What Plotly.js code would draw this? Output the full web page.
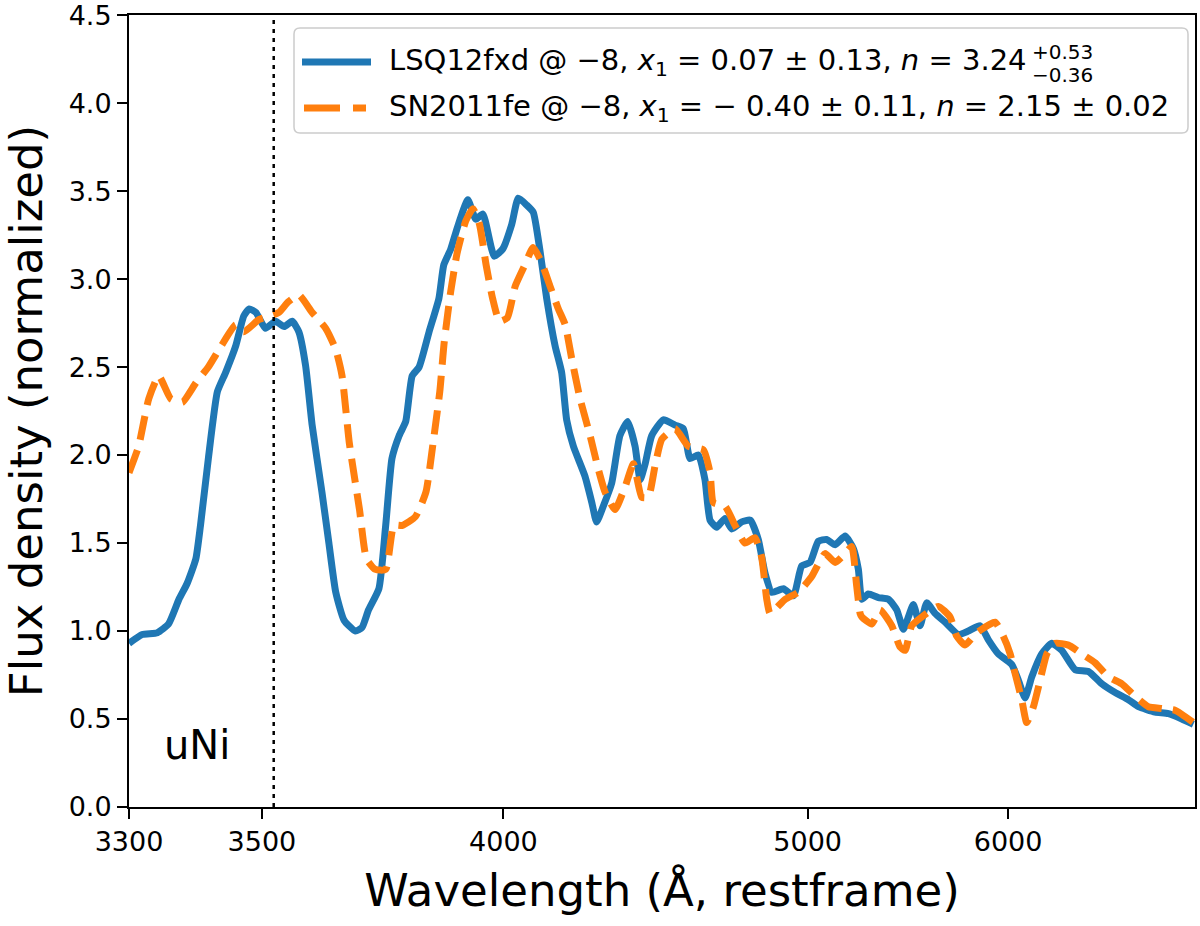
<!DOCTYPE html>
<html>
<head>
<meta charset="utf-8">
<script src="https://cdn.plot.ly/plotly-3.0.1.min.js"></script>
<style>
  html, body { margin: 0; padding: 0; background: #ffffff; }
  #spectra-graph-container { width: 1200px; height: 926px; }
</style>
</head>
<body>
<div id="spectra-graph-container"></div>
<script>
//  ###################### DATA ######################

// the wavelength axis is logarithmic in (wavelength - offset)
const WAVE_OFFSET = 2500;

const tickWaves = [3300, 3500, 4000, 5000, 6000];
const tickLabels = ["3300", "3500", "4000", "5000", "6000"];
const yTickValues = [0.0, 0.5, 1.0, 1.5, 2.0, 2.5, 3.0, 3.5, 4.0, 4.5];

const uNiWave = 3520;

// LSQ12fxd @ -8
const waveLSQ = [3300, 3318, 3339, 3355, 3370, 3382, 3395, 3402, 3414, 3428, 3441, 3457, 3470, 3479, 3490,
    3506, 3523, 3538, 3552, 3564, 3576, 3588, 3606, 3619, 3632, 3648, 3670, 3683, 3696, 3717, 3731, 3744,
    3759, 3773, 3787, 3802, 3824, 3846, 3857, 3873, 3888, 3913, 3932, 3949, 3977, 3998, 4021, 4038, 4060,
    4077, 4095, 4113, 4136, 4154, 4168, 4187, 4220, 4240, 4254, 4274, 4299, 4324, 4348, 4371, 4387, 4403,
    4424, 4462, 4501, 4529, 4552, 4581, 4604, 4622, 4646, 4676, 4701, 4738, 4770, 4801, 4827, 4854, 4900,
    4941, 4975, 5010, 5045, 5081, 5118, 5162, 5199, 5222, 5238, 5268, 5315, 5363, 5403, 5436, 5485, 5519,
    5553, 5596, 5649, 5720, 5774, 5839, 5886, 5943, 6021, 6061, 6101, 6142, 6203, 6266, 6330, 6417, 6505,
    6596, 6689, 6783, 6856, 6979, 7081, 7185, 7277];
const fluxLSQ = [0.93, 0.98, 0.99, 1.04, 1.18, 1.27, 1.41, 1.60, 1.98, 2.36, 2.47, 2.62, 2.79, 2.83, 2.81,
    2.72, 2.76, 2.73, 2.76, 2.70, 2.51, 2.17, 1.79, 1.50, 1.22, 1.06, 1.00, 1.02, 1.12, 1.24, 1.60, 1.98,
    2.11, 2.19, 2.45, 2.50, 2.70, 2.89, 3.08, 3.17, 3.29, 3.45, 3.34, 3.37, 3.13, 3.17, 3.31, 3.46, 3.42,
    3.38, 3.16, 2.89, 2.62, 2.47, 2.20, 2.05, 1.88, 1.73, 1.62, 1.71, 1.84, 2.11, 2.19, 2.05, 1.86, 1.95,
    2.11, 2.20, 2.17, 2.15, 1.98, 2.00, 1.86, 1.63, 1.59, 1.64, 1.58, 1.62, 1.63, 1.52, 1.33, 1.22, 1.24,
    1.20, 1.37, 1.39, 1.51, 1.52, 1.49, 1.54, 1.47, 1.35, 1.18, 1.21, 1.19, 1.18, 1.12, 1.01, 1.15, 1.03,
    1.16, 1.10, 1.05, 0.98, 1.00, 1.03, 0.95, 0.87, 0.81, 0.72, 0.62, 0.74, 0.87, 0.93, 0.89, 0.78, 0.77,
    0.70, 0.65, 0.61, 0.57, 0.54, 0.53, 0.50, 0.47];

// SN2011fe @ -8
const waveFE = [3300, 3313, 3327, 3341, 3358, 3375, 3395, 3414, 3434, 3457, 3470, 3495, 3513, 3529, 3545,
    3564, 3588, 3613, 3632, 3644, 3658, 3678, 3692, 3710, 3731, 3748, 3766, 3794, 3817, 3833, 3848, 3858,
    3873, 3888, 3908, 3925, 3941, 3957, 3973, 3990, 4010, 4030, 4055, 4077, 4100, 4122, 4145, 4164, 4182,
    4206, 4235, 4259, 4279, 4309, 4340, 4366, 4392, 4413, 4435, 4457, 4501, 4546, 4598, 4622, 4634, 4676,
    4713, 4750, 4788, 4814, 4834, 4847, 4907, 4961, 5017, 5074, 5118, 5162, 5192, 5214, 5230, 5238, 5284,
    5323, 5379, 5419, 5444, 5477, 5528, 5613, 5675, 5711, 5756, 5820, 5924, 5972, 6012, 6041, 6081, 6111,
    6152, 6193, 6235, 6287, 6373, 6461, 6550, 6642, 6736, 6831, 6929, 7030, 7132, 7277];
const fluxFE = [1.90, 2.05, 2.32, 2.45, 2.32, 2.30, 2.41, 2.50, 2.62, 2.74, 2.70, 2.77, 2.79, 2.81, 2.87,
    2.91, 2.81, 2.72, 2.60, 2.45, 2.07, 1.69, 1.41, 1.35, 1.35, 1.60, 1.60, 1.65, 1.79, 2.07, 2.36, 2.64,
    2.93, 3.15, 3.33, 3.40, 3.31, 3.08, 2.89, 2.76, 2.78, 2.96, 3.08, 3.18, 3.09, 2.96, 2.83, 2.74, 2.55,
    2.32, 2.11, 1.92, 1.79, 1.69, 1.82, 1.95, 1.76, 1.76, 1.94, 2.09, 2.15, 2.05, 2.03, 1.90, 1.73, 1.71,
    1.60, 1.50, 1.53, 1.42, 1.18, 1.10, 1.18, 1.22, 1.31, 1.44, 1.39, 1.44, 1.48, 1.26, 1.10, 1.08, 1.04,
    1.12, 1.03, 0.91, 0.89, 1.03, 1.08, 1.14, 1.08, 0.97, 0.92, 0.99, 1.05, 0.97, 0.87, 0.76, 0.61, 0.48,
    0.57, 0.72, 0.87, 0.93, 0.92, 0.87, 0.82, 0.74, 0.70, 0.63, 0.57, 0.56, 0.55, 0.48];

const legendLSQ = "LSQ12fxd @ −8, <i>x</i><sub>1</sub> = 0.07 ± 0.13, <i>n</i> = 3.24";
const legendLSQSup = "+0.53";
const legendLSQSub = "−0.36";
const legendFE = "SN2011fe @ −8, <i>x</i><sub>1</sub> = − 0.40 ± 0.11, <i>n</i> = 2.15 ± 0.02";

//  ###################### GRAPH ######################

const BLUE = "#1f77b4";
const ORANGE = "#ff7f0e";
const FONT = "DejaVu Sans, Liberation Sans, sans-serif";

// plot area in pixels (used to place the hand drawn legend)
const PLOT_L = 129, PLOT_R = 1195, PLOT_T = 15, PLOT_B = 807;
const px2x = p => (p - PLOT_L) / (PLOT_R - PLOT_L);
const px2y = p => (PLOT_B - p) / (PLOT_B - PLOT_T);

function shifted(waves){
    return waves.map(w => w - WAVE_OFFSET);
}

function drawSpectraGraph(){

    const spectraPlotData = [
        { x: shifted(waveLSQ), y: fluxLSQ, mode: "lines", name: "LSQ12fxd",
          line: { color: BLUE, width: 7, shape: "spline", smoothing: 0.5 }, showlegend: false },
        { x: shifted(waveFE), y: fluxFE, mode: "lines", name: "SN2011fe",
          line: { color: ORANGE, width: 7, dash: "24px,11px", shape: "spline", smoothing: 0.5 }, showlegend: false },
        { x: shifted([uNiWave, uNiWave]), y: [0, 4.5], mode: "lines", name: "uNi",
          line: { color: "#000000", width: 2.5, dash: "4px,5px" }, showlegend: false },
    ];

    // legend box drawn by hand so that the n error can be stacked like the original
    const r = 6;
    const bx0 = px2x(294), bx1 = px2x(1188), by0 = px2y(133), by1 = px2y(28);
    const rx = r / (PLOT_R - PLOT_L), ry = r / (PLOT_B - PLOT_T);
    const boxPath = `M ${bx0 + rx} ${by1} L ${bx1 - rx} ${by1} Q ${bx1} ${by1} ${bx1} ${by1 - ry} ` +
                    `L ${bx1} ${by0 + ry} Q ${bx1} ${by0} ${bx1 - rx} ${by0} L ${bx0 + rx} ${by0} ` +
                    `Q ${bx0} ${by0} ${bx0} ${by0 + ry} L ${bx0} ${by1 - ry} Q ${bx0} ${by1} ${bx0 + rx} ${by1} Z`;

    const spectraPlotLayout = {
        width: 1200,
        height: 926,
        paper_bgcolor: "#ffffff",
        plot_bgcolor: "#ffffff",
        font: { family: FONT, size: 27, color: "#000000" },
        margin: { t: PLOT_T, b: 926 - PLOT_B, l: PLOT_L, r: 1200 - PLOT_R },
        showlegend: false,
        xaxis: { type: "log",
                 range: [Math.log10(800), Math.log10(4790)],
                 tickmode: "array",
                 tickvals: shifted(tickWaves),
                 ticktext: tickLabels,
                 ticks: "outside", ticklen: 10, tickwidth: 2, tickcolor: "#000000",
                 ticklabeloverflow: "allow",
                 showline: true, linecolor: "#000000", linewidth: 2, mirror: true,
                 showgrid: false, zeroline: false,
                 tickfont: { size: 27 },
                 title: { text: "Wavelength (Å, restframe)", standoff: 18, font: { size: 45 } } },
        yaxis: { range: [0, 4.5005],
                 tickmode: "array",
                 tickvals: yTickValues,
                 ticktext: yTickValues.map(v => v.toFixed(1)),
                 ticks: "outside", ticklen: 10, tickwidth: 2, tickcolor: "#000000",
                 ticklabeloverflow: "allow",
                 showline: true, linecolor: "#000000", linewidth: 2, mirror: true,
                 showgrid: false, zeroline: false,
                 tickfont: { size: 27 },
                 title: { text: "Flux density (normalized)", standoff: 22, font: { size: 45 } } },
        shapes: [
            { type: "path", xref: "paper", yref: "paper", path: boxPath,
              line: { color: "#cccccc", width: 1.5 }, fillcolor: "rgba(255,255,255,0.8)" },
            { type: "line", xref: "paper", yref: "paper",
              x0: px2x(302), x1: px2x(371), y0: px2y(62), y1: px2y(62),
              line: { color: BLUE, width: 7 } },
            { type: "line", xref: "paper", yref: "paper",
              x0: px2x(304), x1: px2x(340), y0: px2y(108), y1: px2y(108),
              line: { color: ORANGE, width: 7 } },
            { type: "line", xref: "paper", yref: "paper",
              x0: px2x(353), x1: px2x(366), y0: px2y(108), y1: px2y(108),
              line: { color: ORANGE, width: 7 } },
        ],
        annotations: [
            { text: legendLSQ, xref: "paper", yref: "paper", x: px2x(387), y: px2y(62),
              xanchor: "left", yanchor: "middle", showarrow: false, font: { size: 29 } },
            { text: legendFE, xref: "paper", yref: "paper", x: px2x(387), y: px2y(108),
              xanchor: "left", yanchor: "middle", showarrow: false, font: { size: 29 } },
            { text: "uNi", xref: "paper", yref: "paper", x: px2x(197), y: px2y(745),
              xanchor: "center", yanchor: "middle", showarrow: false, font: { size: 40 } },
        ]
    };

    const spectraPlotConfig = {
        staticPlot: true,
    };

    return Plotly.newPlot("spectra-graph-container", spectraPlotData, spectraPlotLayout, spectraPlotConfig);
}

// put the asymmetric error of n right after the first legend line
function addLegendErrors(gd){
    let rightPx = 1108;
    const txt = gd.querySelector('.annotation[data-index="0"] text.annotation-text');
    if (txt){
        const box = txt.getBoundingClientRect();
        const root = gd.getBoundingClientRect();
        rightPx = box.right - root.left;
    }
    const extra = [
        { text: legendLSQSup, xref: "paper", yref: "paper", x: px2x(rightPx + 3), y: px2y(52),
          xanchor: "left", yanchor: "middle", showarrow: false, font: { size: 20 } },
        { text: legendLSQSub, xref: "paper", yref: "paper", x: px2x(rightPx + 3), y: px2y(75),
          xanchor: "left", yanchor: "middle", showarrow: false, font: { size: 20 } },
    ];
    return Plotly.relayout(gd, { annotations: gd.layout.annotations.concat(extra) });
}

drawSpectraGraph().then(addLegendErrors);
</script>
</body>
</html>
